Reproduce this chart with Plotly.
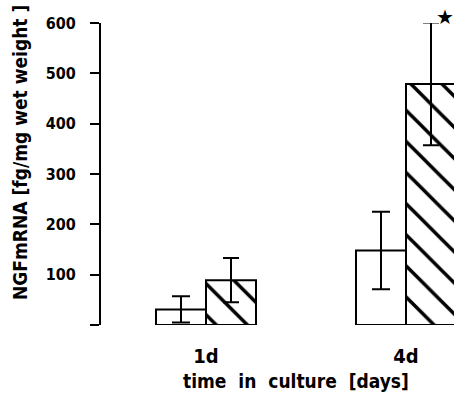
import plotly.graph_objects as go

categories = ["1d", "4d"]
control_values = [31, 148]
control_errors = [26, 77]
treated_values = [89, 479]
treated_errors = [44, 122]
y_tick_values = [0, 100, 200, 300, 400, 500, 600]
y_tick_labels = ["", "100", "200", "300", "400", "500", "600"]

COND = "DejaVu Sans Condensed"

fig = go.Figure()
fig.add_trace(go.Bar(
    x=categories, y=control_values,
    error_y=dict(type="data", array=control_errors, color="black", thickness=2, width=9),
    marker=dict(color="white", line=dict(color="black", width=2)),
    cliponaxis=False, showlegend=False,
))
fig.add_trace(go.Bar(
    x=categories, y=treated_values,
    error_y=dict(type="data", array=treated_errors, color="black", thickness=2, width=8),
    marker=dict(color="white", line=dict(color="black", width=2),
                pattern=dict(shape="\\", fgcolor="black", fgopacity=1, bgcolor="white",
                             size=22, solidity=0.16)),
    cliponaxis=False, showlegend=False,
))

fig.update_layout(
    width=454, height=402,
    margin=dict(l=101, r=0, t=23, b=77),
    paper_bgcolor="white", plot_bgcolor="white",
    barmode="group", bargap=0.5, bargroupgap=0,
    font=dict(family=COND, color="black"),
    xaxis=dict(
        range=[-0.525, 1.24], showline=False, showgrid=False, zeroline=False,
        ticks="", tickfont=dict(family=COND, size=20, weight="bold"),
        ticklabelstandoff=17,
    ),
    yaxis=dict(
        range=[0, 600], showline=True, linecolor="black", linewidth=2,
        showgrid=False, zeroline=False,
        tickvals=y_tick_values, ticktext=y_tick_labels,
        ticks="outside", ticklen=9, tickwidth=2, tickcolor="black",
        tickfont=dict(family=COND, size=16, weight="bold"),
        ticklabelstandoff=11,
    ),
    annotations=[
        dict(text="NGFmRNA [fg/mg wet weight ]", textangle=-90,
             xref="paper", yref="paper", x=(20 - 101) / 353, y=(325 - 153) / 302,
             xanchor="center", yanchor="middle", showarrow=False,
             font=dict(family=COND, size=19, weight="bold")),
        dict(text="time  in  culture  [days]",
             xref="paper", yref="paper", x=(296 - 101) / 353, y=(325 - 381) / 302,
             xanchor="center", yanchor="middle", showarrow=False,
             font=dict(family=COND, size=19, weight="bold")),
        dict(text="★", xref="paper", yref="paper", x=(445 - 101) / 353, y=(325 - 17) / 302,
             xanchor="center", yanchor="middle", showarrow=False,
             font=dict(family="DejaVu Sans", size=20, color="black")),
    ],
)

fig.write_html("out.html", config={"displayModeBar": False},
               post_script="document.body.style.margin='0px';")
